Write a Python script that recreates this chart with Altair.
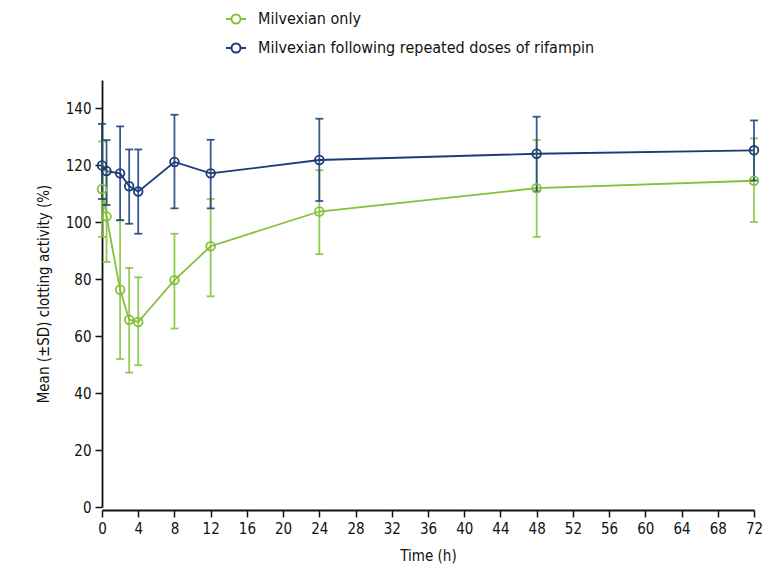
import altair as alt
import pandas as pd

times = [0, 0.5, 2, 3, 4, 8, 12, 24, 48, 72]
series_names = ["Milvexian only", "Milvexian following repeated doses of rifampin"]
green_mean = [111.7, 102.1, 76.3, 65.8, 65.0, 79.7, 91.6, 103.8, 112.0, 114.6]
green_lo = [94.9, 86.1, 52.0, 47.2, 49.8, 62.7, 74.0, 88.8, 94.9, 100.1]
green_hi = [128.4, 118.1, 100.6, 84.0, 80.7, 96.0, 108.2, 118.3, 128.9, 129.5]
blue_mean = [120.0, 118.0, 117.2, 112.7, 110.8, 121.2, 117.2, 121.9, 124.1, 125.3]
blue_lo = [108.2, 106.1, 100.8, 99.5, 96.0, 104.9, 104.9, 107.5, 110.9, 114.7]
blue_hi = [134.6, 128.9, 133.7, 125.6, 125.6, 137.8, 129.0, 136.4, 137.1, 135.8]
x_ticks = list(range(0, 73, 4))
y_ticks = list(range(0, 141, 20))

GREEN = "#84c13a"
BLUE = "#1a3c78"
FONT = "DejaVu Sans Condensed, sans-serif"

rows = []
for name, m, lo, hi in [(series_names[0], green_mean, green_lo, green_hi),
                        (series_names[1], blue_mean, blue_lo, blue_hi)]:
    for t, a, b, c in zip(times, m, lo, hi):
        rows.append({"series": name, "time": t, "mean": a, "lo": b, "hi": c})
df = pd.DataFrame(rows)

xs = alt.Scale(domain=[0, 72], nice=False)
ys = alt.Scale(domain=[0, 150], nice=False)
x_axis = alt.Axis(values=x_ticks, offset=3, titlePadding=12,
                  labelOverlap=False, labelFlush=False)
y_axis = alt.Axis(values=y_ticks, titlePadding=14)
X_TITLE = "Time (h)"
Y_TITLE = "Mean (±SD) clotting activity (%)"


def xq():
    return alt.X("time:Q", scale=xs, title=X_TITLE, axis=x_axis)


def yq(field):
    return alt.Y(field + ":Q", scale=ys, title=Y_TITLE, axis=y_axis)


cscale = alt.Scale(domain=series_names, range=[GREEN, BLUE])
color = alt.Color("series:N", scale=cscale, sort=series_names,
                  legend=alt.Legend(title=None, orient="none", legendX=123, legendY=-72,
                                    symbolType="M-1,0L-0.45,0M0.45,0L1,0M0.45,0A0.45,0.45,0,1,1,-0.45,0A0.45,0.45,0,1,1,0.45,0",
                                    symbolSize=400, symbolStrokeWidth=2, rowPadding=9,
                                    labelOffset=11, labelFontSize=16, labelFont=FONT,
                                    labelColor="#111", labelLimit=600, padding=0))

base = alt.Chart(df)
layers = []
for name, col in zip(series_names, [GREEN, BLUE]):
    sub = base.transform_filter(alt.datum.series == name)
    layers.append(sub.mark_rule(strokeWidth=1.8, opacity=0.85).encode(
        x=xq(), y=yq("lo"), y2="hi:Q", color=alt.value(col)))
    layers.append(sub.mark_tick(orient="horizontal", size=8, thickness=1.8, opacity=0.85).encode(
        x=xq(), y=yq("lo"), color=alt.value(col)))
    layers.append(sub.mark_tick(orient="horizontal", size=8, thickness=1.8, opacity=0.85).encode(
        x=xq(), y=yq("hi"), color=alt.value(col)))

line = base.mark_line(strokeWidth=1.8).encode(x=xq(), y=yq("mean"), color=color, detail="series:N")
pts = base.mark_point(filled=False, size=75, strokeWidth=1.8, opacity=1).encode(
    x=xq(), y=yq("mean"), color=alt.Color("series:N", legend=None, scale=cscale))

chart = alt.layer(line, *layers, pts).properties(
    width=652, height=427,
    autosize=alt.AutoSizeParams(type="none"),
    padding={"left": 94, "top": 72, "right": 9, "bottom": 62},
).configure_view(stroke=None).configure_axis(
    grid=False, domainColor="#111", domainWidth=1.8, tickColor="#111", tickWidth=1.5,
    tickSize=7, labelFont=FONT, labelFontSize=15, labelColor="#111", labelPadding=4,
    titleFont=FONT, titleFontSize=15, titleColor="#111", titleFontWeight="normal"
)

chart.save("out.html", embed_options={"renderer": "svg", "actions": False})
